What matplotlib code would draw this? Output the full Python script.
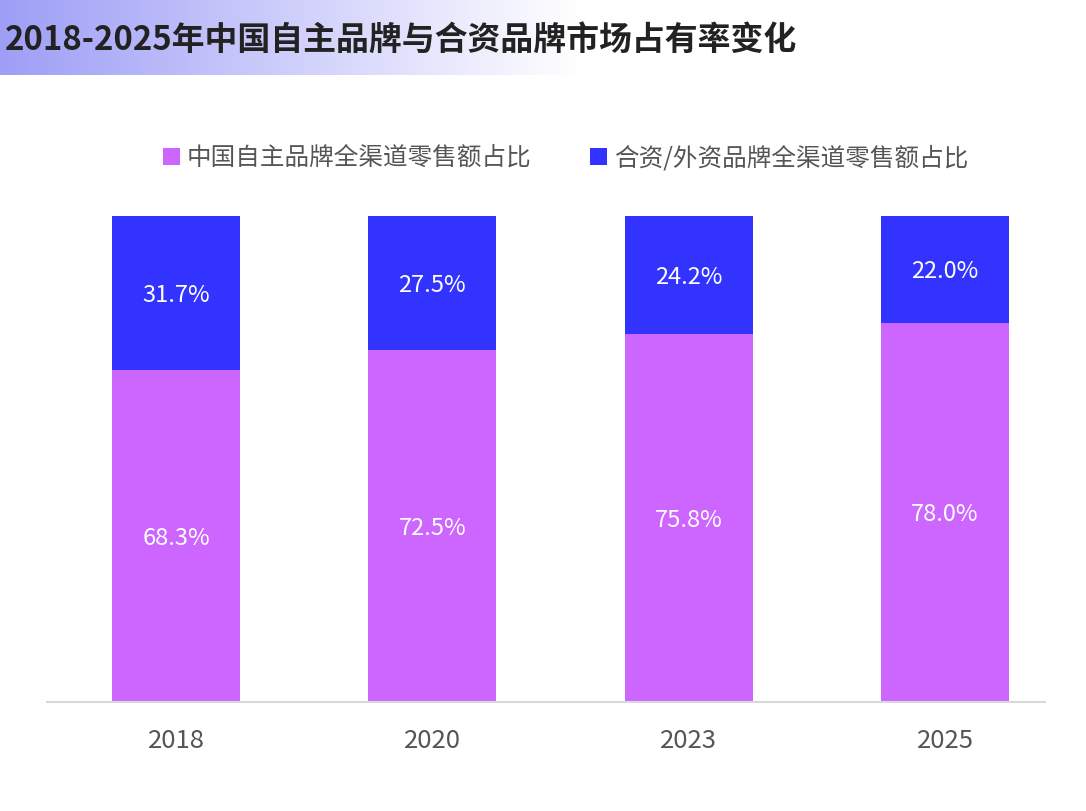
import matplotlib.pyplot as plt
import numpy as np

plt.rcParams['font.family'] = ['Noto Sans CJK SC', 'DejaVu Sans']

years = ['2018', '2020', '2023', '2025']
domestic = [68.3, 72.5, 75.8, 78.0]
foreign = [31.7, 27.5, 24.2, 22.0]
labels = ['中国自主品牌全渠道零售额占比', '合资/外资品牌全渠道零售额占比']
title = '2018-2025年中国自主品牌与合资品牌市场占有率变化'

c_dom = '#cc66ff'
c_for = '#3333ff'

W, H = 1086, 811
fig = plt.figure(figsize=(W / 100, H / 100), dpi=100)

# title band with gradient
band = fig.add_axes([0, 1 - 75 / H, 580 / W, 75 / H])
grad = np.linspace(0, 1, 256)
start = np.array([0.62, 0.62, 0.97])
img = start[None, :] * (1 - grad[:, None]) + np.ones(3)[None, :] * grad[:, None]
band.imshow(img[None, :, :], aspect='auto', extent=[0, 1, 0, 1])
band.axis('off')
fig.text(5 / W, 1 - 40 / H, title, fontsize=23.7, fontweight='bold',
         color='#222222', va='center', ha='left')

ax = fig.add_axes([47 / W, 1 - 702 / H, 998 / W, 486 / H])
x = np.arange(len(years))
ax.bar(x, domestic, width=0.5, color=c_dom, label=labels[0])
ax.bar(x, foreign, width=0.5, bottom=domestic, color=c_for, label=labels[1])

for i in range(len(years)):
    ax.text(x[i], domestic[i] / 2, f'{domestic[i]:.1f}%', ha='center',
            va='center_baseline', color='white', fontsize=17)
    ax.text(x[i], domestic[i] + foreign[i] / 2, f'{foreign[i]:.1f}%', ha='center',
            va='center_baseline', color='white', fontsize=17)

ax.set_xlim(-0.503, 3.39)
ax.set_ylim(0, 100)
ax.set_yticks([])
ax.set_xticks(x)
ax.set_xticklabels(years, fontsize=18.5, color='#555555')
ax.tick_params(axis='x', length=0, pad=19)
for s in ['top', 'right', 'left']:
    ax.spines[s].set_visible(False)
ax.spines['bottom'].set_color('#d9d9d9')
ax.spines['bottom'].set_linewidth(1.5)

leg = fig.legend(loc='center left', bbox_to_anchor=(141 / W, 1 - 158 / H), ncol=2,
                 frameon=False, fontsize=17.7, handlelength=0.68, handleheight=0.68,
                 handletextpad=0.28, columnspacing=2.4, labelcolor='#555555')

fig.savefig('out.png', dpi=100)
